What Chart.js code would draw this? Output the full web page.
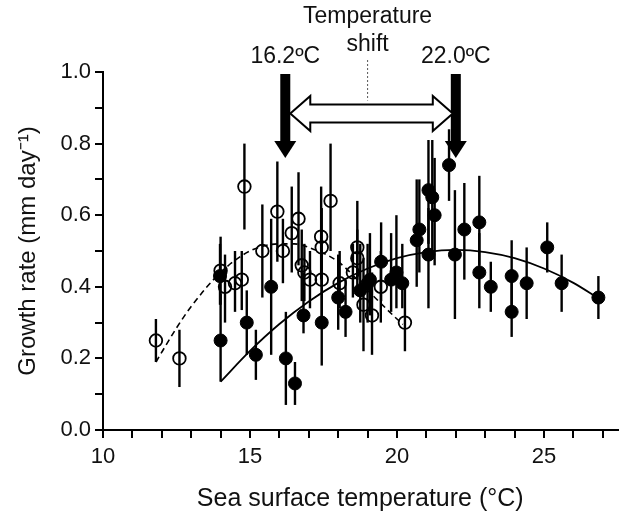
<!DOCTYPE html>
<html>
<head>
<meta charset="utf-8">
<script src="https://cdn.jsdelivr.net/npm/chart.js@4.4.1/dist/chart.umd.min.js"></script>
<style>
  html, body { margin: 0; padding: 0; background: #fff; }
</style>
</head>
<body>
<canvas id="growthChart" width="631" height="517"></canvas>
<script>
// open circles (cooler period)
const openTemp = [11.8, 12.6, 14.0, 14.15, 14.49, 14.72, 14.81, 15.42, 15.93, 16.12, 16.42, 16.65, 16.76, 16.85, 17.04, 17.42, 17.44, 17.44, 17.74, 18.05, 18.5, 18.65, 18.65, 18.86, 19.15, 19.45, 20.27];
const openRate = [0.25, 0.20, 0.445, 0.40, 0.41, 0.42, 0.68, 0.50, 0.61, 0.50, 0.55, 0.59, 0.46, 0.44, 0.42, 0.54, 0.51, 0.42, 0.64, 0.41, 0.44, 0.51, 0.48, 0.35, 0.32, 0.40, 0.30];
const openLow  = [0.19, 0.12, 0.35, 0.30, 0.33, 0.335, 0.56, 0.37, 0.47, 0.41, 0.44, 0.46, 0.36, 0.36, 0.34, 0.42, 0.40, 0.30, 0.50, 0.34, 0.37, 0.42, 0.40, 0.22, 0.21, 0.30, 0.22];
const openHigh = [0.31, 0.28, 0.54, 0.49, 0.50, 0.50, 0.80, 0.63, 0.75, 0.59, 0.68, 0.72, 0.56, 0.52, 0.50, 0.68, 0.62, 0.52, 0.80, 0.50, 0.52, 0.64, 0.56, 0.48, 0.44, 0.50, 0.40];

// filled circles (warmer period)
const filledTemp = [14.0, 13.98, 14.89, 15.2, 15.72, 16.22, 16.53, 16.82, 17.44, 18.0, 18.25, 18.75, 19.0, 19.08, 19.46, 19.8, 19.98, 20.18, 20.67, 20.76, 21.07, 21.2, 21.28, 21.07, 21.77, 21.97, 22.29, 22.8, 22.8, 23.19, 23.9, 23.9, 24.41, 25.11, 25.6, 26.85];
const filledRate = [0.25, 0.43, 0.30, 0.21, 0.40, 0.20, 0.13, 0.32, 0.30, 0.37, 0.33, 0.39, 0.41, 0.42, 0.47, 0.42, 0.44, 0.41, 0.53, 0.56, 0.67, 0.65, 0.60, 0.49, 0.74, 0.49, 0.56, 0.58, 0.44, 0.40, 0.43, 0.33, 0.41, 0.51, 0.41, 0.37];
const filledLow  = [0.135, 0.35, 0.21, 0.14, 0.21, 0.07, 0.07, 0.27, 0.18, 0.28, 0.26, 0.30, 0.30, 0.32, 0.36, 0.33, 0.34, 0.34, 0.40, 0.44, 0.52, 0.50, 0.46, 0.34, 0.64, 0.31, 0.42, 0.46, 0.34, 0.33, 0.33, 0.26, 0.31, 0.44, 0.33, 0.31];
const filledHigh = [0.38, 0.52, 0.39, 0.28, 0.59, 0.33, 0.19, 0.44, 0.42, 0.49, 0.42, 0.52, 0.52, 0.55, 0.58, 0.55, 0.60, 0.52, 0.70, 0.70, 0.81, 0.81, 0.76, 0.62, 0.84, 0.67, 0.69, 0.71, 0.55, 0.47, 0.53, 0.43, 0.51, 0.58, 0.49, 0.43];

// fitted curves
const dashTemp = [11.8, 12.5, 13, 14, 15, 16, 16.5, 17, 18, 19, 20, 20.2];
const dashRate = [0.19, 0.285, 0.345, 0.44, 0.50, 0.52, 0.52, 0.51, 0.47, 0.39, 0.31, 0.295];
const solidTemp = [14, 15, 16, 17, 18, 19, 20, 21, 22, 23, 24, 25, 26, 26.85];
const solidRate = [0.135, 0.221, 0.296, 0.359, 0.411, 0.451, 0.48, 0.497, 0.503, 0.497, 0.48, 0.451, 0.411, 0.368];

// axis ticks
const xTickVals = [10, 11, 12, 13, 14, 15, 16, 17, 18, 19, 20, 21, 22, 23, 24, 25, 26, 27];
const xTickLabels = ["10", "15", "20", "25"];
const yTickVals = [0, 0.1, 0.2, 0.3, 0.4, 0.5, 0.6, 0.7, 0.8, 0.9, 1.0];
const yTickLabels = ["0.0", "0.2", "0.4", "0.6", "0.8", "1.0"];

// the two optima and the shift between them
const shiftTemps = [16.2, 22.0];
const shiftLabels = ["16.2ºC", "22.0ºC"];

const FONT = "'Liberation Sans', Arial, sans-serif";

const toPts = (xs, ys) => xs.map((v, i) => ({ x: v, y: ys[i] }));

// vertical error bars, drawn under the markers
const errorBars = {
  id: "errorBars",
  beforeDatasetsDraw(chart) {
    const xs = chart.scales.x, ys = chart.scales.y, ctx = chart.ctx;
    ctx.save();
    ctx.strokeStyle = "#000";
    ctx.lineWidth = 2.4;
    const draw = (temps, lows, highs) => {
      temps.forEach((t, i) => {
        const px = xs.getPixelForValue(t);
        ctx.beginPath();
        ctx.moveTo(px, ys.getPixelForValue(lows[i]));
        ctx.lineTo(px, ys.getPixelForValue(highs[i]));
        ctx.stroke();
      });
    };
    draw(openTemp, openLow, openHigh);
    draw(filledTemp, filledLow, filledHigh);
    ctx.restore();
  }
};

// arrows + text above the plot
const shiftNotes = {
  id: "shiftNotes",
  afterDraw(chart) {
    const xs = chart.scales.x, ys = chart.scales.y, ctx = chart.ctx;
    ctx.save();
    ctx.fillStyle = "#000";
    ctx.strokeStyle = "#000";

    // thick down arrows
    const top = ys.getPixelForValue(1.0) + 2;
    const tip = ys.getPixelForValue(0.76);
    shiftTemps.forEach(t => {
      const px = xs.getPixelForValue(t);
      ctx.fillRect(px - 5, top, 10, tip - top - 16);
      ctx.beginPath();
      ctx.moveTo(px - 11, tip - 17);
      ctx.lineTo(px + 11, tip - 17);
      ctx.lineTo(px, tip);
      ctx.closePath();
      ctx.fill();
    });

    // hollow double arrow
    const xl = xs.getPixelForValue(shiftTemps[0]) + 5;
    const xr = xs.getPixelForValue(shiftTemps[1]) - 3;
    const yc = ys.getPixelForValue(0.884);
    const hs = 9, hh = 17.5, hl = 20;
    ctx.beginPath();
    ctx.moveTo(xl, yc);
    ctx.lineTo(xl + hl, yc - hh);
    ctx.lineTo(xl + hl, yc - hs);
    ctx.lineTo(xr - hl, yc - hs);
    ctx.lineTo(xr - hl, yc - hh);
    ctx.lineTo(xr, yc);
    ctx.lineTo(xr - hl, yc + hh);
    ctx.lineTo(xr - hl, yc + hs);
    ctx.lineTo(xl + hl, yc + hs);
    ctx.lineTo(xl + hl, yc + hh);
    ctx.closePath();
    ctx.fillStyle = "#fff";
    ctx.fill();
    ctx.lineWidth = 2;
    ctx.stroke();

    // dotted pointer from "shift"
    const mid = xs.getPixelForValue(19.0);
    ctx.beginPath();
    ctx.setLineDash([2, 2]);
    ctx.lineWidth = 1;
    ctx.strokeStyle = "#555";
    ctx.moveTo(mid, 60);
    ctx.lineTo(mid, yc - hs - 4);
    ctx.stroke();
    ctx.setLineDash([]);

    // text
    ctx.fillStyle = "#111";
    ctx.font = "23px " + FONT;
    ctx.textAlign = "center";
    ctx.textBaseline = "alphabetic";
    ctx.fillText("Temperature", mid, 23);
    ctx.fillText("shift", mid, 51);
    shiftTemps.forEach((t, i) => {
      ctx.fillText(shiftLabels[i], xs.getPixelForValue(t), 63);
    });
    ctx.restore();
  }
};

const ctx = document.getElementById("growthChart");

new Chart(ctx, {
  type: "scatter",
  data: {
    datasets: [
      {
        label: "open",
        data: toPts(openTemp, openRate),
        pointStyle: "circle",
        pointRadius: 6.3,
        pointBackgroundColor: "rgba(0,0,0,0)",
        pointBorderColor: "#000",
        pointBorderWidth: 1.8,
        order: 1
      },
      {
        label: "filled",
        data: toPts(filledTemp, filledRate),
        pointRadius: 6.5,
        pointBackgroundColor: "#000",
        pointBorderColor: "#000",
        pointBorderWidth: 1,
        order: 0
      },
      {
        type: "line",
        label: "fit cool",
        data: toPts(dashTemp, dashRate),
        borderColor: "#000",
        borderWidth: 1.6,
        borderDash: [6, 4],
        pointRadius: 0,
        cubicInterpolationMode: "monotone",
        fill: false,
        order: 3
      },
      {
        type: "line",
        label: "fit warm",
        data: toPts(solidTemp, solidRate),
        borderColor: "#000",
        borderWidth: 1.8,
        pointRadius: 0,
        cubicInterpolationMode: "monotone",
        fill: false,
        order: 2
      }
    ]
  },
  options: {
    responsive: false,
    animation: false,
    devicePixelRatio: 1,
    layout: { padding: { left: 0, right: 13.5, top: 72, bottom: 0 } },
    plugins: {
      legend: { display: false },
      tooltip: { enabled: false }
    },
    scales: {
      x: {
        type: "linear",
        min: 10,
        max: 27.5,
        afterFit: (scale) => { scale.height = 87; },
        afterBuildTicks: (scale) => { scale.ticks = xTickVals.map(v => ({ value: v })); },
        border: { display: true, color: "#000", width: 2 },
        grid: { drawOnChartArea: false, drawTicks: true, tickLength: 8, color: "#000", lineWidth: 2 },
        ticks: {
          color: "#111",
          font: { family: FONT, size: 22 },
          padding: 6,
          maxRotation: 0,
          autoSkip: false,
          callback: (v) => xTickLabels.includes(String(v)) ? String(v) : ""
        },
        title: {
          display: true,
          text: "Sea surface temperature (°C)",
          color: "#111",
          font: { family: FONT, size: 25, lineHeight: 1 },
          padding: { top: 0, bottom: 5 }
        }
      },
      y: {
        min: 0,
        max: 1.0,
        afterFit: (scale) => { scale.width = 103; },
        afterBuildTicks: (scale) => { scale.ticks = yTickVals.map(v => ({ value: v })); },
        border: { display: true, color: "#000", width: 2 },
        grid: { drawOnChartArea: false, drawTicks: true, tickLength: 8, color: "#000", lineWidth: 2 },
        ticks: {
          color: "#111",
          font: { family: FONT, size: 22 },
          padding: 4,
          autoSkip: false,
          callback: (v) => {
            const s = v.toFixed(1);
            return yTickLabels.includes(s) ? s : "";
          }
        },
        title: {
          display: true,
          text: "Growth rate (mm day\u207B\u00B9)",
          color: "#111",
          font: { family: FONT, size: 24, lineHeight: 1 },
          padding: { top: 16, bottom: 0 }
        }
      }
    }
  },
  plugins: [errorBars, shiftNotes]
});
</script>
</body>
</html>
